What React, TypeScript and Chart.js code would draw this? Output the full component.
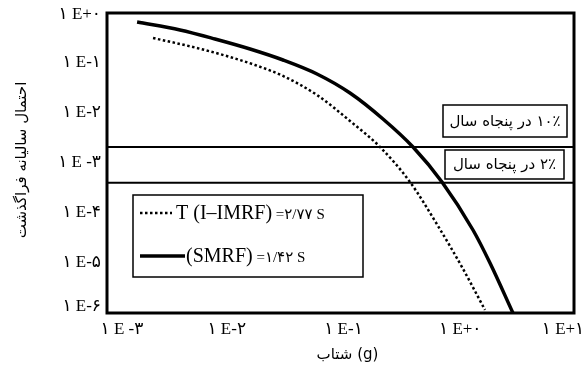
import React, { useEffect, useRef } from "react";
import { Chart, registerables } from "chart.js";

Chart.register(...registerables);

// ---- data ----
const solidX = [0.00181, 0.00422, 0.00841, 0.0168, 0.0322, 0.0629, 0.1206, 0.2312, 0.4178, 0.74, 1.364, 1.908, 3.0];
const solidY = [0.661, 0.457, 0.302, 0.1905, 0.1148, 0.0603, 0.0251, 0.00759, 0.00209, 0.000417, 0.0000457, 0.00001, 0.000001];
const dottedX = [0.00248, 0.0059, 0.01131, 0.01852, 0.0322, 0.0629, 0.1206, 0.218, 0.3937, 0.684, 1.098, 1.729];
const dottedY = [0.316, 0.1995, 0.1318, 0.0912, 0.055, 0.0229, 0.00692, 0.00209, 0.000417, 0.000055, 0.0000083, 0.00000115];
const level10 = 0.0021;
const level2 = 0.000404;
const xTickValues = [0.001, 0.01, 0.1, 1, 10];
const xTickLabels = ["۱ E -۳", "۱ E-۲", "۱ E-۱", "۱ E+۰", "۱ E+۱"];
const yTickValues = [1, 0.1, 0.01, 0.001, 0.0001, 0.00001, 0.000001];
const yTickLabels = ["۱ E+۰", "۱ E-۱", "۱ E-۲", "۱ E -۳", "۱ E-۴", "۱ E-۵", "۱ E-۶"];
const xTitle = "شتاب (g)";
const yTitle = "احتمال سالیانه فراگذشت";
const box10Label = "۱۰٪ در پنجاه سال";
const box2Label = "۲٪ در پنجاه سال";
const legendDotted = ["T (I–IMRF)", " =۲/۷۷ S"];
const legendSolid = ["(SMRF)", " =۱/۴۲ S"];

const SERIF = '"Liberation Serif", "DejaVu Sans", serif';
const ARABIC = '"DejaVu Sans", "Noto Sans", sans-serif';

const overlay = {
  id: "overlay",
  afterDraw(chart: any) {
    const ctx = chart.ctx as CanvasRenderingContext2D;
    const a = chart.chartArea;
    const xs = chart.scales.x;
    const ys = chart.scales.y;
    ctx.save();
    // frame
    ctx.strokeStyle = "#000";
    ctx.lineWidth = 3;
    ctx.strokeRect(a.left, a.top, a.right - a.left, a.bottom - a.top);

    // x tick labels
    ctx.fillStyle = "#000";
    ctx.font = "17px " + SERIF;
    ctx.textAlign = "center";
    ctx.textBaseline = "middle";
    ctx.direction = "ltr";
    xTickValues.forEach((v, i) => {
      const off = i === 0 ? 15 : i === xTickValues.length - 1 ? -11 : 3;
      ctx.fillText(xTickLabels[i], xs.getPixelForValue(v) + off, a.bottom + 17);
    });
    // y tick labels
    ctx.textAlign = "right";
    yTickValues.forEach((v, i) => {
      const off = i === 0 ? 2 : i === yTickValues.length - 1 ? -6 : 0;
      ctx.fillText(yTickLabels[i], a.left - 6, ys.getPixelForValue(v) + off);
    });

    // axis titles
    ctx.font = "15px " + ARABIC;
    ctx.textAlign = "center";
    ctx.fillText(xTitle, (a.left + a.right) / 2 + 7, a.bottom + 42);
    ctx.save();
    ctx.translate(22, 160);
    ctx.rotate(-Math.PI / 2);
    ctx.direction = "rtl";
    ctx.fillText(yTitle, 0, 0);
    ctx.restore();

    // level boxes
    ctx.lineWidth = 1.5;
    const drawBox = (x1: number, y1: number, x2: number, y2: number, t: string) => {
      ctx.fillStyle = "#fff";
      ctx.fillRect(x1, y1, x2 - x1, y2 - y1);
      ctx.strokeRect(x1, y1, x2 - x1, y2 - y1);
      ctx.fillStyle = "#000";
      ctx.font = "15px " + ARABIC;
      ctx.textAlign = "center";
      ctx.direction = "rtl";
      ctx.fillText(t, (x1 + x2) / 2, (y1 + y2) / 2 + 1);
    };
    drawBox(443, 105, 567, 137, box10Label);
    drawBox(445, 150, 564, 179, box2Label);

    // legend
    ctx.direction = "ltr";
    ctx.strokeStyle = "#000";
    ctx.lineWidth = 1.5;
    ctx.strokeRect(133, 195, 230, 82);
    ctx.save();
    ctx.lineWidth = 2.5;
    ctx.setLineDash([2.5, 2.5]);
    ctx.beginPath();
    ctx.moveTo(140, 213);
    ctx.lineTo(172, 213);
    ctx.stroke();
    ctx.restore();
    ctx.lineWidth = 3.5;
    ctx.beginPath();
    ctx.moveTo(140, 256);
    ctx.lineTo(185, 256);
    ctx.stroke();
    ctx.textAlign = "left";
    ctx.textBaseline = "alphabetic";
    const drawLeg = (x: number, y: number, parts: string[]) => {
      ctx.font = "20px " + SERIF;
      ctx.fillText(parts[0], x, y);
      const w = ctx.measureText(parts[0]).width;
      ctx.font = "15px " + SERIF;
      ctx.fillText(parts[1], x + w, y);
    };
    drawLeg(176, 219, legendDotted);
    drawLeg(186, 262, legendSolid);
    ctx.restore();
  },
};

export default function App() {
  const ref = useRef<HTMLCanvasElement>(null);
  useEffect(() => {
    if (!ref.current) return;
    const chart = new Chart(ref.current, {
      type: "scatter",
      data: {
        datasets: [
          {
            data: solidX.map((x, i) => ({ x, y: solidY[i] })),
            showLine: true,
            borderColor: "#000",
            borderWidth: 3.5,
            pointRadius: 0,
            cubicInterpolationMode: "monotone",
          } as any,
          {
            data: dottedX.map((x, i) => ({ x, y: dottedY[i] })),
            showLine: true,
            borderColor: "#000",
            borderWidth: 2.5,
            borderDash: [2.5, 2.5],
            pointRadius: 0,
            cubicInterpolationMode: "monotone",
          } as any,
          {
            data: [{ x: 0.001, y: level10 }, { x: 10, y: level10 }],
            showLine: true,
            borderColor: "#000",
            borderWidth: 2,
            pointRadius: 0,
          },
          {
            data: [{ x: 0.001, y: level2 }, { x: 10, y: level2 }],
            showLine: true,
            borderColor: "#000",
            borderWidth: 2,
            pointRadius: 0,
          },
        ],
      },
      options: {
        animation: false,
        responsive: false,
        devicePixelRatio: 1,
        layout: { padding: { left: 107, right: 11, top: 13, bottom: 63 } },
        plugins: { legend: { display: false }, tooltip: { enabled: false } },
        scales: {
          x: { type: "logarithmic", min: 0.001, max: 10, display: false },
          y: { type: "logarithmic", min: 0.000001, max: 1, display: false },
        },
      },
      plugins: [overlay],
    });
    return () => chart.destroy();
  }, []);
  return (
    <div style={{ position: "fixed", left: 0, top: 0, width: 585, height: 376, background: "#fff" }}>
      <canvas ref={ref} width={585} height={376} style={{ display: "block" }} />
    </div>
  );
}
